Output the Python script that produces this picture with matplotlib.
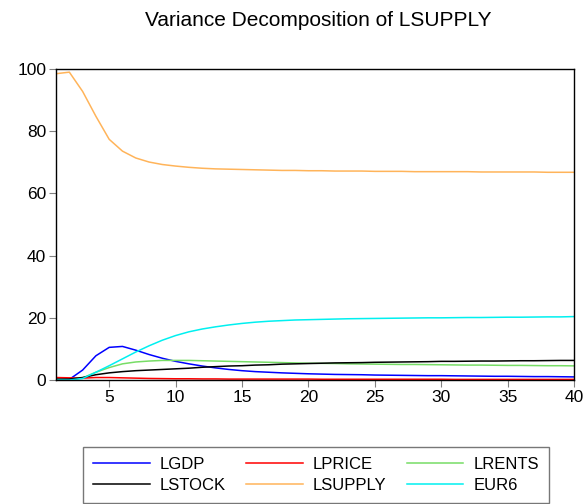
import numpy as np
import matplotlib.pyplot as plt

plt.rcParams['font.family'] = ['Liberation Sans', 'DejaVu Sans']

periods = np.arange(1, 41)

lgdp = [0.0, 0.2, 3.2, 7.8, 10.5, 10.8, 9.6, 8.2, 7.0, 6.0,
        5.2, 4.5, 3.9, 3.4, 3.0, 2.7, 2.5, 2.3, 2.15, 2.0,
        1.9, 1.8, 1.75, 1.7, 1.6, 1.55, 1.5, 1.45, 1.4, 1.4,
        1.35, 1.3, 1.25, 1.2, 1.2, 1.15, 1.1, 1.1, 1.05, 1.0]
lprice = [0.8, 0.7, 0.6, 0.8, 0.8, 0.7, 0.6, 0.5, 0.45, 0.4,
          0.4, 0.35, 0.35, 0.3, 0.3, 0.3, 0.3, 0.3, 0.3, 0.3,
          0.25, 0.25, 0.25, 0.25, 0.25, 0.25, 0.25, 0.25, 0.25, 0.25,
          0.2, 0.2, 0.2, 0.2, 0.2, 0.2, 0.2, 0.2, 0.2, 0.2]
lrents = [0.0, 0.0, 0.7, 2.5, 4.0, 5.2, 5.8, 6.1, 6.3, 6.3,
          6.3, 6.2, 6.1, 6.0, 5.9, 5.8, 5.7, 5.6, 5.5, 5.4,
          5.35, 5.3, 5.2, 5.15, 5.1, 5.05, 5.0, 5.0, 4.95, 4.9,
          4.85, 4.8, 4.8, 4.75, 4.7, 4.7, 4.65, 4.6, 4.6, 4.55]
lstock = [0.3, 0.3, 0.8, 1.7, 2.3, 2.7, 3.0, 3.2, 3.4, 3.6,
          3.8, 4.1, 4.3, 4.5, 4.6, 4.8, 4.9, 5.1, 5.2, 5.3,
          5.4, 5.5, 5.55, 5.6, 5.7, 5.75, 5.8, 5.85, 5.9, 6.0,
          6.0, 6.05, 6.1, 6.1, 6.15, 6.2, 6.2, 6.25, 6.3, 6.3]
lsupply = [98.5, 99.0, 92.8, 84.8, 77.4, 73.6, 71.4, 70.1, 69.3, 68.8,
           68.4, 68.1, 67.9, 67.8, 67.7, 67.6, 67.5, 67.4, 67.4, 67.3,
           67.3, 67.2, 67.2, 67.2, 67.1, 67.1, 67.1, 67.0, 67.0, 67.0,
           67.0, 67.0, 66.9, 66.9, 66.9, 66.9, 66.9, 66.8, 66.8, 66.8]
eur6 = [0.0, 0.0, 0.5, 2.5, 4.6, 6.8, 9.0, 11.0, 12.8, 14.3,
        15.5, 16.4, 17.1, 17.7, 18.2, 18.6, 18.9, 19.1, 19.3, 19.4,
        19.5, 19.6, 19.7, 19.75, 19.8, 19.85, 19.9, 19.95, 20.0, 20.0,
        20.05, 20.1, 20.1, 20.15, 20.2, 20.2, 20.25, 20.3, 20.3, 20.4]

series = [
    ("LGDP", lgdp, "#0000ff"),
    ("LPRICE", lprice, "#ff0000"),
    ("LRENTS", lrents, "#77dd66"),
    ("LSTOCK", lstock, "#000000"),
    ("LSUPPLY", lsupply, "#ffb45a"),
    ("EUR6", eur6, "#00f0f0"),
]

fig = plt.figure(figsize=(5.84, 5.04), dpi=100)
ax = fig.add_axes([0.096, 0.246, 0.887, 0.617])

lines = []
for name, vals, col in series:
    ln, = ax.plot(periods, vals, color=col, linewidth=1.1, label=name)
    lines.append(ln)

ax.set_xlim(1, 40)
ax.set_ylim(0, 100)
ax.set_xticks([5, 10, 15, 20, 25, 30, 35, 40])
ax.set_yticks([0, 20, 40, 60, 80, 100])
ax.tick_params(direction='out', length=5, color='gray', labelsize=12.5, pad=2)
for s in ax.spines.values():
    s.set_color('black')
    s.set_linewidth(1.0)

fig.text(0.545, 0.96, "Variance Decomposition of LSUPPLY",
         ha='center', va='center', fontsize=15)

# legend fills row by row in the reference
order = [0, 3, 1, 4, 2, 5]
fig.legend([lines[i] for i in order], [series[i][0] for i in order],
           loc='lower left', bbox_to_anchor=(0.142, 0.002, 0.798, 0.121),
           mode='expand', ncol=3, fontsize=12, handlelength=3.4,
           handletextpad=0.6, frameon=True, fancybox=False,
           edgecolor='#555555', borderaxespad=0, borderpad=0.6,
           columnspacing=1.5, labelspacing=0.35)

fig.savefig("out.png", dpi=100)
